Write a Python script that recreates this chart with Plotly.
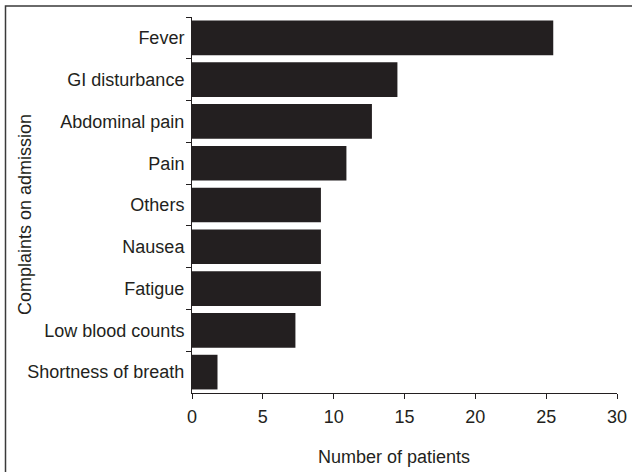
import plotly.graph_objects as go

categories = ["Fever", "GI disturbance", "Abdominal pain", "Pain", "Others",
              "Nausea", "Fatigue", "Low blood counts", "Shortness of breath"]
values = [25.5, 14.5, 12.7, 10.9, 9.1, 9.1, 9.1, 7.3, 1.8]
x_ticks = [0, 5, 10, 15, 20, 25, 30]

FONT = "Liberation Sans, Arial, sans-serif"
BAR = "#231f20"

fig = go.Figure(go.Bar(
    y=categories, x=values, orientation="h",
    marker=dict(color=BAR, line=dict(width=0)),
))

fig.update_layout(
    width=632, height=472,
    autosize=False,
    margin=dict(l=192, r=15, t=17, b=79, autoexpand=False),
    paper_bgcolor="white", plot_bgcolor="white",
    bargap=0.17,
    showlegend=False,
    font=dict(family=FONT, size=18, color="#231f20"),
    xaxis=dict(
        range=[0, 30], tickvals=x_ticks, ticks="outside", ticklen=5,
        tickcolor="#231f20", showline=True, linecolor="#231f20", linewidth=1,
        showgrid=False, zeroline=False, tickfont=dict(size=18),
        ticklabelstandoff=2, automargin=False,
    ),
    yaxis=dict(
        categoryorder="array", categoryarray=categories, autorange="reversed",
        ticks="outside", tickson="boundaries", ticklen=5, tickcolor="#231f20",
        showline=True, linecolor="#231f20", linewidth=1, showgrid=False,
        tickfont=dict(size=18), ticklabelstandoff=3, automargin=False,
    ),
    annotations=[
        dict(text="Complaints on admission", xref="paper", yref="paper",
             x=(25 - 192) / 425, y=(393 - 215) / 376, textangle=-90,
             showarrow=False, xanchor="center", yanchor="middle",
             font=dict(size=18)),
        dict(text="Number of patients", xref="paper", yref="paper",
             x=(394 - 192) / 425, y=(393 - 457) / 376,
             showarrow=False, xanchor="center", yanchor="middle",
             font=dict(size=18)),
    ],
    shapes=[
        dict(type="rect", xref="paper", yref="paper",
             x0=(5.5 - 192) / 425, x1=2.0, y0=-2.0, y1=(393 - 6) / 376,
             line=dict(color="#3a3a3a", width=1.5), fillcolor="rgba(0,0,0,0)"),
    ],
)

fig.write_html(
    "out.html",
    config={"displayModeBar": False},
    post_script="document.body.style.margin='0px';document.body.style.overflow='hidden';",
)
